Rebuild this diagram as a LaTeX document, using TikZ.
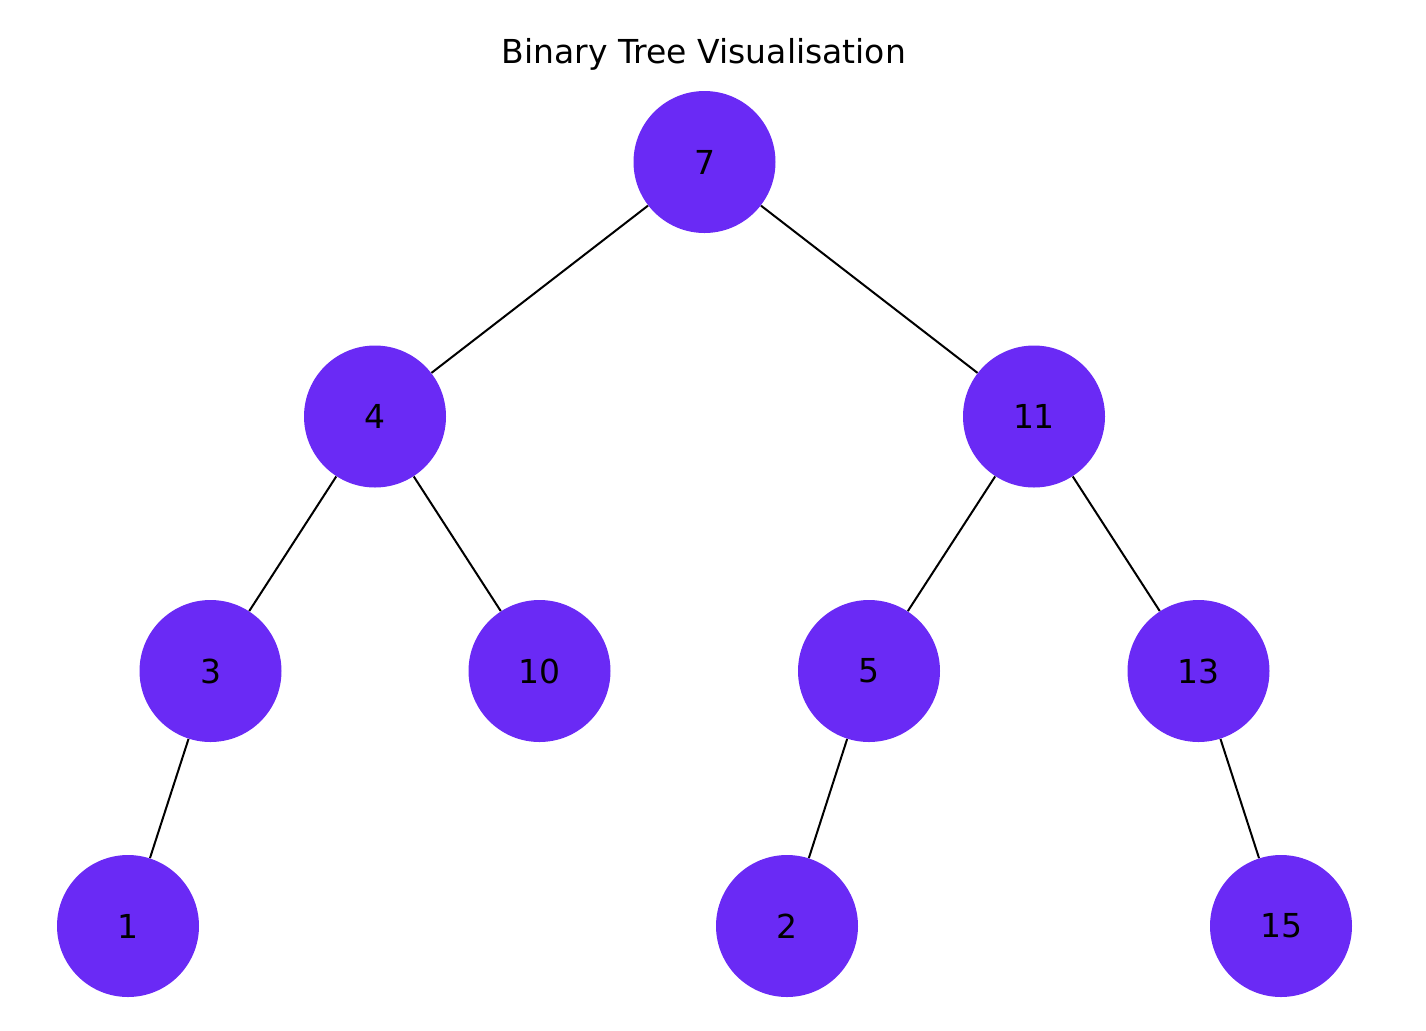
\documentclass[tikz,border=0pt]{standalone}
\usepackage{fontspec}
\setmainfont{DejaVu Sans}
\definecolor{treepurple}{RGB}{106,42,245}
\tikzset{
  treenode/.style={circle, fill=treepurple, minimum size=71pt, inner sep=0pt, font=\fontsize{16.5}{20}\selectfont},
  treeedge/.style={line width=1pt, black}
}
\begin{document}
\begin{tikzpicture}[x=0.5pt, y=-0.5pt]
            \useasboundingbox (0,0) rectangle (1426,1030);

            \node[font=\fontsize{16.5}{20}\selectfont] (title) at (704,54) {Binary Tree Visualisation};

            % levels of the tree
            \node[treenode] (n7) at (704.5,162) {7};
            \node[treenode] (n4) at (375,416.5) {4};
            \node[treenode] (n11) at (1034,416.5) {11};
            \node[treenode] (n3) at (210.5,671) {3};
            \node[treenode] (n10) at (539.5,671) {10};
            \node[treenode] (n5) at (869,671) {5};
            \node[treenode] (n13) at (1198.5,671) {13};
            \node[treenode] (n1) at (128,926) {1};
            \node[treenode] (n2) at (787,926) {2};
            \node[treenode] (n15) at (1281,926) {15};

            \draw[treeedge] (n7) -- (n4);
            \draw[treeedge] (n7) -- (n11);
            \draw[treeedge] (n4) -- (n3);
            \draw[treeedge] (n4) -- (n10);
            \draw[treeedge] (n11) -- (n5);
            \draw[treeedge] (n11) -- (n13);
            \draw[treeedge] (n3) -- (n1);
            \draw[treeedge] (n5) -- (n2);
            \draw[treeedge] (n13) -- (n15);
        \end{tikzpicture}
\end{document}
